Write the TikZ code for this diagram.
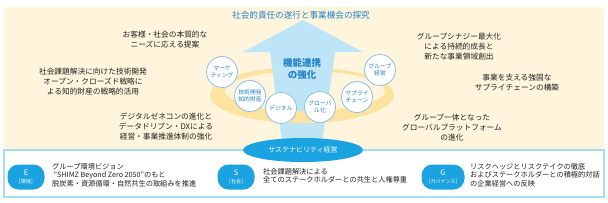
\documentclass[tikz,border=0pt]{standalone}
\usepackage{fontspec}
\setmainfont{Noto Sans CJK JP}
\usepackage{xcolor}
\usepackage{tikz}
\usetikzlibrary{positioning,shapes.geometric}
\definecolor{cream}{HTML}{FFF5DC}
\definecolor{skyarrow}{HTML}{BEE5F7}
\definecolor{ringyel}{HTML}{FCE3A0}
\definecolor{esgblue}{HTML}{1AA3E0}
\definecolor{titleblue}{HTML}{2381C8}
\definecolor{circline}{HTML}{8DBEE4}
\definecolor{boxline}{HTML}{A5DCF2}
\definecolor{txt}{HTML}{222222}

\begin{document}
\begin{tikzpicture}[
  x=1pt,y=-1pt,
  text=txt,
  note/.style={align=center,font=\fontsize{7.7}{10}\selectfont},
  func/.style={circle,draw=circline,fill=white,line width=0.8pt,minimum size=31pt,
               inner sep=0pt,align=center,text=titleblue,font=\fontsize{5.8}{7.2}\selectfont},
  pill/.style={rectangle,rounded corners=11pt,fill=esgblue,text=white,minimum height=25pt,
               minimum width=37pt,inner sep=1pt,align=center,font=\fontsize{7.5}{8.5}\selectfont},
  esgtext/.style={align=left,font=\fontsize{7.2}{8.3}\selectfont},
  ring/.style={fill=ringyel,even odd rule}
]
\useasboundingbox (0,0) rectangle (608,202);

% ---- background ----
\fill[cream] (4,7) rectangle (604,150);
\draw[boxline,line width=1.5pt,fill=white] (4,150) rectangle (604,197);

% ---- ring and arrow ----
\fill[ring] (302,95) ellipse [x radius=92pt,y radius=28pt] (305,91) ellipse [x radius=80pt,y radius=20pt];
\fill[skyarrow] (303,20) -- (363,52) -- (335,52) -- (321,150) -- (283,150) -- (270,52) -- (243,52) -- cycle;
\begin{scope}
  \clip (200,100) rectangle (410,130);
  \fill[ring] (302,95) ellipse [x radius=92pt,y radius=28pt] (305,91) ellipse [x radius=80pt,y radius=20pt];
\end{scope}

% ---- goal ----
\node[text=titleblue,font=\fontsize{8.6}{10}\selectfont] (goal) at (301,15) {社会的責任の遂行と事業機会の探究};
\node[text=titleblue,align=center,font=\fontsize{9.5}{12}\selectfont\bfseries] (kyoka) at (302,69) {機能連携\\の強化};

% ---- functions ----
\node[func] (mkt) at (222,72) {マーケ\\ティング};
\node[func] (ipr) at (250,96) {技術開発\\知的財産};
\node[func] (dig) at (281,108) {デジタル};
\node[func] (glb) at (320,107) {グローバ\\ル化};
\node[func] (scm) at (357,97) {サプライ\\チェーン};
\node[func] (grp) at (380,70) {グループ\\経営};

% ---- notes ----
\node[note] (need) at (165,40) {お客様・社会の本質的な\\ニーズに応える提案};
\node[note] (tech) at (93,82) {社会課題解決に向けた技術開発\\オープン・クローズド戦略に\\よる知的財産の戦略的活用};
\node[note] (dx) at (166,127) {デジタルゼネコンの進化と\\データドリブン・DXによる\\経営・事業推進体制の強化};
\node[note] (synergy) at (459,47) {グループシナジー最大化\\による持続的成長と\\新たな事業領域創出};
\node[note] (supply) at (517,83) {事業を支える強固な\\サプライチェーンの構築};
\node[note] (platform) at (452,128) {グループ一体となった\\グローバルプラットフォーム\\の進化};

% ---- ESG ----
\node[ellipse,fill=esgblue,text=white,minimum width=120pt,minimum height=24pt,inner sep=0pt,
      font=\fontsize{7}{8}\selectfont] (sust) at (303,150) {サステナビリティ経営};

\node[pill] (envE) at (26,177) {E\\{\fontsize{5}{6}\selectfont［環境］}};
\node[esgtext,right=4pt of envE,yshift=2pt] (envtxt) {グループ環境ビジョン\\\ “SHIMZ Beyond Zero 2050”のもと\\脱炭素・資源循環・自然共生の取組みを推進};

\node[pill] (socS) at (236,177) {S\\{\fontsize{5}{6}\selectfont［社会］}};
\node[esgtext,right=5pt of socS,yshift=1pt] (soctxt) {社会課題解決による\\全てのステークホルダーとの共生と人権尊重};

\node[pill,minimum width=43pt] (govG) at (443,177) {G\\{\fontsize{5}{6}\selectfont［ガバナンス］}};
\node[esgtext,right=2pt of govG,yshift=2pt] (govtxt) {リスクヘッジとリスクテイクの徹底\\およびステークホルダーとの積極的対話\\の企業経営への反映};

\end{tikzpicture}
\end{document}
